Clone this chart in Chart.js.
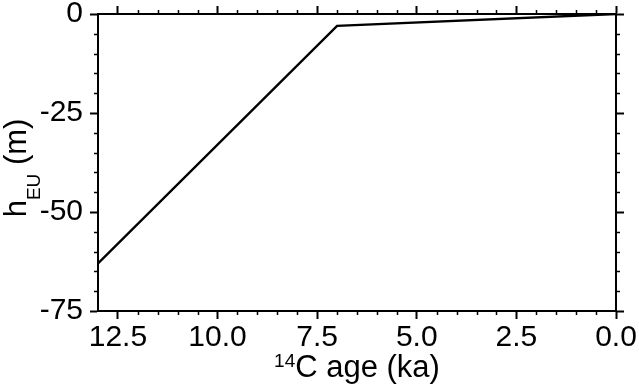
<!DOCTYPE html>
<html>
<head>
<meta charset="utf-8">
<script src="https://cdn.jsdelivr.net/npm/chart.js@4/dist/chart.umd.min.js"></script>
<style>
html,body{margin:0;padding:0;background:#fff;}
canvas{display:block;}
</style>
</head>
<body>
<canvas id="c" width="639" height="388"></canvas>
<script>
// Data
const ageKa = [13, 7, 0];
const hEU = [-63, -3, 0];
const xTicks = [0, 2.5, 5, 7.5, 10, 12.5];
const yTicks = [0, -25, -50, -75];
const xTitleSup = '14';
const xTitleMain = 'C age (ka)';
const yTitleMain = 'h';
const yTitleSub = 'EU';
const yTitleTail = ' (m)';

const FONT = '"Liberation Sans", Arial, Helvetica, sans-serif';

const AREA = {left: 98, top: 14, right: 616, bottom: 311};

const minorTicks = {
  id: 'minorTicks',
  afterDraw(chart) {
    const ctx = chart.ctx;
    const {x, y} = chart.scales;
    const a = chart.chartArea;
    ctx.save();
    ctx.strokeStyle = '#000';
    ctx.lineWidth = 1.5;
    ctx.beginPath();
    for (let v = 0.5; v < 13; v += 0.5) {
      if (Math.abs(v / 2.5 - Math.round(v / 2.5)) < 1e-6) continue;
      const px = Math.round(x.getPixelForValue(v)) + 0.5;
      ctx.moveTo(px, a.bottom); ctx.lineTo(px, a.bottom + 4);
      ctx.moveTo(px, a.top); ctx.lineTo(px, a.top - 4);
    }
    for (let v = -5; v > -75; v -= 5) {
      if (v % 25 === 0) continue;
      const py = Math.round(y.getPixelForValue(v)) + 0.5;
      ctx.moveTo(a.left, py); ctx.lineTo(a.left - 4, py);
      ctx.moveTo(a.right, py); ctx.lineTo(a.right + 4, py);
    }
    ctx.stroke();

    ctx.fillStyle = '#000';
    const big = '31px ' + FONT, small = '19px ' + FONT;
    // x title
    ctx.font = big;
    const wMain = ctx.measureText(xTitleMain).width;
    ctx.font = small;
    const wSup = ctx.measureText(xTitleSup).width;
    const cx = (a.left + a.right) / 2;
    const sx = cx - (wMain + wSup) / 2;
    const base = 377;
    ctx.textBaseline = 'alphabetic';
    ctx.textAlign = 'left';
    ctx.fillText(xTitleSup, sx, base - 10);
    ctx.font = big;
    ctx.fillText(xTitleMain, sx + wSup, base);

    // y title rotated
    ctx.save();
    ctx.translate(26, 168);
    ctx.rotate(-Math.PI / 2);
    ctx.font = big;
    const wh = ctx.measureText(yTitleMain).width;
    const wt = ctx.measureText(yTitleTail).width;
    ctx.font = small;
    const ws = ctx.measureText(yTitleSub).width;
    const tx = -(wh + ws + wt) / 2;
    ctx.font = big;
    ctx.fillText(yTitleMain, tx, 0);
    ctx.font = small;
    ctx.fillText(yTitleSub, tx + wh, 14);
    ctx.font = big;
    ctx.fillText(yTitleTail, tx + wh + ws, 0);
    ctx.restore();
    ctx.restore();
  }
};

const gridMajor = {
  display: true,
  drawOnChartArea: false,
  drawTicks: true,
  tickLength: 8,
  tickWidth: 2,
  tickColor: '#000'
};
const border = {display: true, color: '#000', width: 2};

new Chart(document.getElementById('c'), {
  type: 'line',
  data: {
    datasets: [{
      data: ageKa.map((a, i) => ({x: a, y: hEU[i]})),
      borderColor: '#000',
      borderWidth: 2.4,
      pointRadius: 0,
      tension: 0,
      fill: false
    }]
  },
  options: {
    responsive: false,
    animation: false,
    layout: {padding: 0},
    plugins: {legend: {display: false}, tooltip: {enabled: false}},
    scales: {
      x: {
        type: 'linear', position: 'bottom', reverse: true, min: 0, max: 13,
        grid: gridMajor, border: border,
        afterBuildTicks: s => { s.ticks = xTicks.map(v => ({value: v})); },
        ticks: {
          autoSkip: false, maxRotation: 0, minRotation: 0, padding: 1,
          color: '#000', font: {family: FONT, size: 30, lineHeight: 1.2},
          callback: v => Number(v).toFixed(1)
        },
        afterFit: s => { s.height = 388 - AREA.bottom; s.paddingLeft = 0; s.paddingRight = 0; }
      },
      x2: {
        type: 'linear', position: 'top', reverse: true, min: 0, max: 13,
        grid: gridMajor, border: border,
        afterBuildTicks: s => { s.ticks = xTicks.map(v => ({value: v})); },
        ticks: {display: false},
        afterFit: s => { s.height = AREA.top; s.paddingLeft = 0; s.paddingRight = 0; }
      },
      y: {
        type: 'linear', position: 'left', min: -75, max: 0,
        grid: gridMajor, border: border,
        afterBuildTicks: s => { s.ticks = yTicks.map(v => ({value: v})); },
        ticks: {
          autoSkip: false, padding: 7,
          color: '#000', font: {family: FONT, size: 30, lineHeight: 1.2},
          callback: v => String(v)
        },
        afterFit: s => { s.width = AREA.left; s.paddingTop = 0; s.paddingBottom = 0; }
      },
      y2: {
        type: 'linear', position: 'right', min: -75, max: 0,
        grid: gridMajor, border: border,
        afterBuildTicks: s => { s.ticks = yTicks.map(v => ({value: v})); },
        ticks: {display: false},
        afterFit: s => { s.width = 639 - AREA.right; s.paddingTop = 0; s.paddingBottom = 0; }
      }
    }
  },
  plugins: [minorTicks]
});
</script>
</body>
</html>
